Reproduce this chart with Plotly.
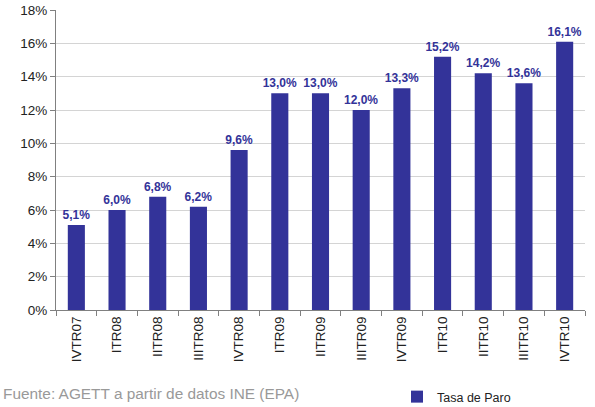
import plotly.graph_objects as go

categories = ["IVTR07", "ITR08", "IITR08", "IIITR08", "IVTR08", "ITR09", "IITR09",
              "IIITR09", "IVTR09", "ITR10", "IITR10", "IIITR10", "IVTR10"]
tasa_paro = [5.1, 6.0, 6.8, 6.2, 9.6, 13.0, 13.0, 12.0, 13.3, 15.2, 14.2, 13.6, 16.1]
tick_vals = [0, 2, 4, 6, 8, 10, 12, 14, 16, 18]
tick_text = [f"{v}%" for v in tick_vals]

labels = [f"{v:.1f}".replace(".", ",") + "%" for v in tasa_paro]

W, H = 595, 407
L, R, T, B = 56, 10, 10, 97
PW, PH = W - L - R, H - T - B

fig = go.Figure()
fig.add_trace(go.Bar(
    x=categories, y=tasa_paro, name="Tasa de Paro",
    marker=dict(color="#333399", line=dict(width=0)),
    text=labels, textposition="outside", cliponaxis=False, constraintext="none",
    textfont=dict(family="Arial, Liberation Sans", size=12, color="#333399", weight="bold"),
))

fig.update_layout(
    width=W, height=H,
    margin=dict(l=L, r=R, t=T, b=B),
    plot_bgcolor="white", paper_bgcolor="white",
    bargap=0.58,
    font=dict(family="Arial, Liberation Sans", size=13, color="#222222"),
    showlegend=True,
    legend=dict(x=397 / W, y=1 - 397 / H, xref="container", yref="container",
                xanchor="left", yanchor="middle",
                orientation="h", font=dict(size=12.5, color="#222222"),
                itemwidth=30, bgcolor="rgba(0,0,0,0)"),
    xaxis=dict(type="category", tickangle=-90, showline=True, linecolor="#808080", linewidth=1,
               ticks="outside", tickson="boundaries", ticklen=5, tickcolor="#808080",
               showgrid=False, tickfont=dict(size=13.5), automargin=False),
    yaxis=dict(range=[0, 18], tickvals=tick_vals, ticktext=tick_text,
               showline=True, linecolor="#808080", linewidth=1,
               ticks="outside", ticklen=5, tickcolor="#808080",
               gridcolor="#d4d4d4", gridwidth=1, zeroline=False, tickfont=dict(size=13.5),
               automargin=False),
    annotations=[dict(text="Fuente: AGETT a partir de datos INE (EPA)", xref="paper", yref="paper",
                      x=-(L - 1) / PW, y=-(393 - (H - B)) / PH, xanchor="left", yanchor="middle",
                      showarrow=False, font=dict(size=15.4, color="#999999"))],
)

fig.write_html("out.html", config={"displayModeBar": False},
               post_script="document.body.style.margin='0';")
